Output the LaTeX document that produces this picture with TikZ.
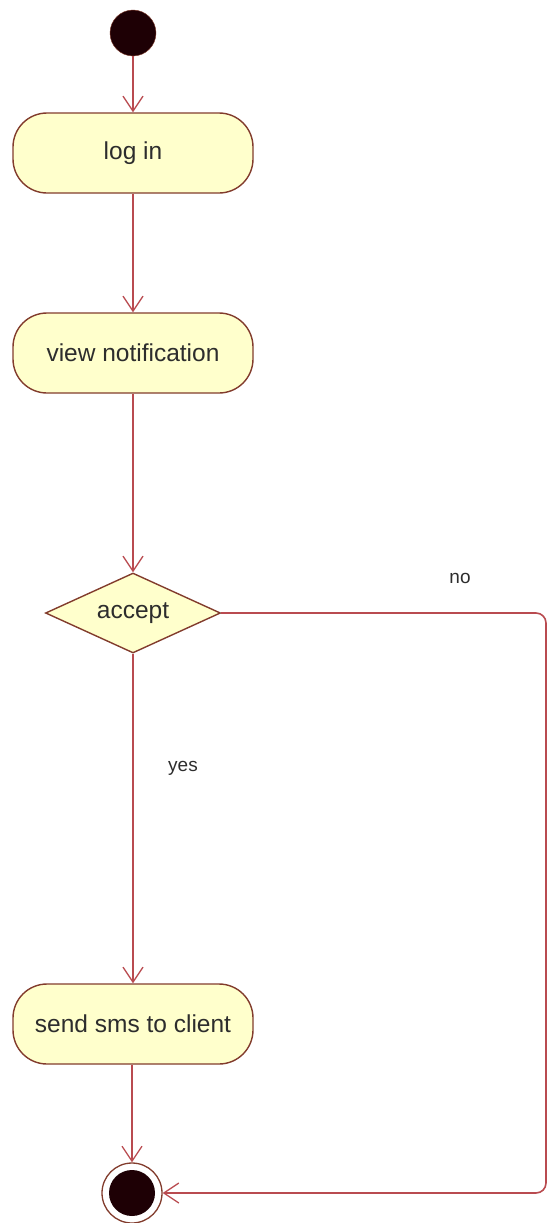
\documentclass[tikz,border=0pt]{standalone}
\usepackage{fontspec}
\setmainfont{Liberation Sans}
\usetikzlibrary{shapes.geometric,arrows.meta}
\definecolor{actfill}{RGB}{255,255,204}
\definecolor{actedge}{RGB}{130,60,45}
\definecolor{flow}{RGB}{185,75,80}
\definecolor{ink}{RGB}{45,45,45}
\definecolor{dot}{RGB}{30,0,5}
\begin{document}
\begin{tikzpicture}[x=1pt,y=-1pt,
  every node/.style={font=\fontsize{24.5}{28}\selectfont, text=ink},
  action/.style={draw=actedge, line width=1.4pt, fill=actfill, rectangle,
    rounded corners=34pt, minimum width=240pt, minimum height=80pt, inner sep=0pt},
  decision/.style={draw=actedge, line width=1.4pt, fill=actfill, diamond,
    aspect=2.2, minimum width=175pt, minimum height=80pt, inner sep=0pt},
  startdot/.style={circle, draw=actedge, fill=dot, minimum size=46pt, inner sep=0pt},
  enddot/.style={circle, draw=actedge, line width=1.3pt, fill=white, minimum size=60pt, inner sep=0pt},
  enddotin/.style={circle, fill=dot, minimum size=46pt, inner sep=0pt},
  flowline/.style={draw=flow, line width=1.6pt, -{Straight Barb[length=15pt,width=20pt,line width=1.3pt]}},
  guard/.style={font=\fontsize{19}{23}\selectfont}
]
\useasboundingbox (0,0) rectangle (548,1223);

\node[startdot] (start) at (133,33) {};
\node[action] (login) at (133,153) {log in};
\node[action] (view) at (133,353) {view notification};
\node[decision] (accept) at (133,613) {accept};
\node[action] (send) at (133,1024) {send sms to client};
\node[enddot] (end) at (132,1193) {};
\node[enddotin] (endin) at (end) {};

\coordinate (cornerA) at (546,613);
\coordinate (cornerB) at (546,1193);

\draw[flowline] (start) -- (login);
\draw[flowline] (login) -- (view);
\draw[flowline] (view) -- (accept);
\draw[flowline] (accept) -- (send);
\draw[flowline] (send.south -| end) -- (end);
\draw[flowline, rounded corners=10pt] (accept.east) -- (cornerA) -- (cornerB) -- (end.east);

\node[guard] (no) at (460,578) {no};
\node[guard] (yes) at (183,768) {yes};
\end{tikzpicture}
\end{document}
